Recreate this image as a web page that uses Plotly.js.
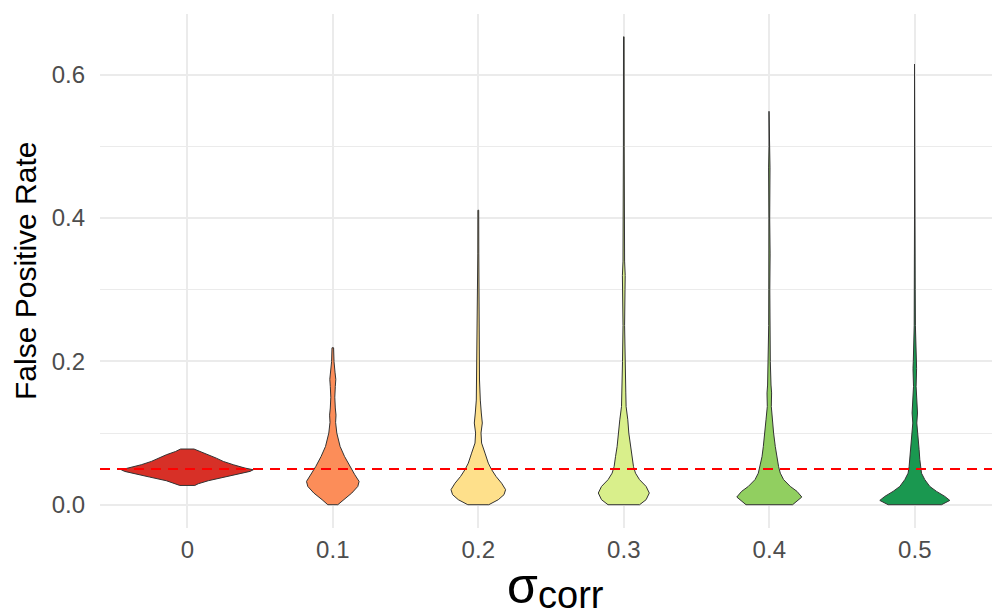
<!DOCTYPE html>
<html><head><meta charset="utf-8">
<script src="https://cdn.plot.ly/plotly-3.0.1.min.js"></script>
<style>html,body{margin:0;padding:0;background:#fff;overflow:hidden}</style>
</head><body><div id="chart" style="width:992px;height:611px"></div>
<script>
// Categories (sigma_corr) and fill colours
const categories = ['0', '0.1', '0.2', '0.3', '0.4', '0.5'];
const fillColors = ['#D73027', '#FC8D59', '#FEE08B', '#D9EF8B', '#91CF60', '#1A9850'];
const refLine = 0.05;

// Violin density profiles: FPR level and half-width (relative density)
const fpr_s0 = [0.0269, 0.0293, 0.0335, 0.0386, 0.0418, 0.0465, 0.0488, 0.0511, 0.0558, 0.0604, 0.065, 0.0697, 0.0743, 0.0777];
const dens_s0 = [7.5, 11, 21, 37.7, 49, 62.7, 66, 57.7, 46, 36, 29, 21, 11.7, 6.7];

const fpr_s1 = [0, 0.007, 0.0163, 0.0255, 0.0325, 0.0418, 0.0534, 0.0674, 0.0813, 0.1, 0.115, 0.125, 0.135, 0.15, 0.165, 0.175, 0.185, 0.2, 0.219];
const dens_s1 = [5, 10.7, 19, 25, 26.3, 22, 17, 11.7, 7.3, 4, 2.8, 3.2, 2.5, 2, 2.5, 3, 2.2, 1.2, 0.8];

const fpr_s2 = [0, 0.007, 0.014, 0.021, 0.030, 0.0395, 0.049, 0.058, 0.072, 0.086, 0.1, 0.114, 0.128, 0.146, 0.174, 0.2, 0.25, 0.3, 0.35, 0.411];
const dens_s2 = [10.5, 20, 25.7, 27.3, 23.3, 17.7, 13.3, 10, 6.7, 3.3, 2.7, 4, 3, 2, 1.2, 1, 0.7, 0.9, 0.5, 0.4];

const fpr_s3 = [0, 0.007, 0.0163, 0.0255, 0.035, 0.044, 0.053, 0.067, 0.081, 0.1, 0.1185, 0.137, 0.156, 0.174, 0.2, 0.25, 0.3, 0.32, 0.34, 0.4, 0.5, 0.653];
const dens_s3 = [15.8, 22.3, 25.5, 22.3, 15.7, 11.7, 9.7, 8.3, 6.7, 5, 4, 2.3, 2, 1.7, 1.3, 0.8, 1.2, 1.4, 0.8, 0.4, 0.4, 0.3];

const fpr_s4 = [0, 0.0107, 0.0186, 0.0255, 0.035, 0.044, 0.053, 0.067, 0.081, 0.1, 0.1185, 0.137, 0.156, 0.167, 0.2, 0.25, 0.3, 0.35, 0.4, 0.47, 0.5, 0.549];
const dens_s4 = [23.3, 32.5, 27.7, 21, 14.3, 11, 9.3, 7.3, 6, 4.3, 3.3, 2, 2.3, 1.7, 1, 0.6, 0.5, 0.8, 0.4, 0.7, 0.3, 0.3];

const fpr_s5 = [0, 0.006, 0.0116, 0.0186, 0.0255, 0.035, 0.044, 0.053, 0.063, 0.077, 0.091, 0.1, 0.114, 0.128, 0.146, 0.165, 0.19, 0.2, 0.25, 0.3, 0.4, 0.5, 0.615];
const dens_s5 = [26.7, 35, 30, 21.7, 15, 10, 6.7, 5.7, 5, 4.3, 3.7, 2.7, 2, 2.7, 1.7, 1.3, 1.8, 1.5, 0.6, 0.4, 0.3, 0.3, 0.3];

const yTickVals = [0, 0.2, 0.4, 0.6];
const yTickText = ['0.0', '0.2', '0.4', '0.6'];

const profiles = [[fpr_s0, dens_s0], [fpr_s1, dens_s1], [fpr_s2, dens_s2], [fpr_s3, dens_s3], [fpr_s4, dens_s4], [fpr_s5, dens_s5]];
const widthScale = 1 / 145.5; // density units -> category units

const traces = profiles.map(([ys, ds], i) => {
  const xr = ys.map((y, j) => i + ds[j] * widthScale);
  const xl = ys.map((y, j) => i - ds[j] * widthScale).reverse();
  const yl = ys.slice().reverse();
  return {
    type: 'scatter', mode: 'lines',
    x: xr.concat(xl, [xr[0]]),
    y: ys.concat(yl, [ys[0]]),
    fill: 'toself', fillcolor: fillColors[i],
    line: {color: '#333333', width: 1},
    hoverinfo: 'skip', showlegend: false
  };
});

const font = 'Liberation Sans, Arial, Helvetica, sans-serif';
const plotW = 892;
const layout = {
  width: 992, height: 611,
  margin: {l: 100, r: 0, t: 14, b: 83},
  paper_bgcolor: '#ffffff', plot_bgcolor: '#ffffff',
  font: {family: font, color: '#4D4D4D'},
  xaxis: {
    range: [-0.6, 5.5306], tickvals: [0, 1, 2, 3, 4, 5], ticktext: categories,
    showgrid: true, gridcolor: '#EBEBEB', gridwidth: 2, zeroline: false, showline: false,
    ticks: '', tickfont: {size: 24, color: '#4D4D4D', family: font}, ticklabelstandoff: 5
  },
  yaxis: {
    range: [-0.0325, 0.6848], tickvals: yTickVals, ticktext: yTickText,
    showgrid: true, gridcolor: '#EBEBEB', gridwidth: 2, zeroline: false, showline: false,
    minor: {dtick: 0.1, tick0: 0, showgrid: true, gridcolor: '#EBEBEB', gridwidth: 1, ticks: ''},
    ticks: '', tickfont: {size: 24, color: '#4D4D4D', family: font}, ticklabelstandoff: 14
  },
  shapes: [{
    type: 'line', xref: 'paper', x0: 0, x1: 1, yref: 'y', y0: refLine, y1: refLine,
    line: {color: '#FF0000', width: 2, dash: '10px,7px'}, layer: 'above'
  }],
  annotations: [
    {text: 'False Positive Rate', textangle: -90, xref: 'paper', yref: 'paper',
     x: (25 - 100) / plotW, y: 0.5, xanchor: 'center', yanchor: 'middle', showarrow: false,
     font: {size: 30, color: '#000000', family: font}},
    {text: 'σ', xref: 'paper', x: (540 - 100) / plotW, yref: 'paper', y: (528 - 586) / 514,
     xanchor: 'right', yanchor: 'middle', showarrow: false,
     font: {size: 50, color: '#000000', family: font}},
    {text: 'corr', xref: 'paper', x: (536 - 100) / plotW, yref: 'paper', y: (528 - 595) / 514,
     xanchor: 'left', yanchor: 'middle', showarrow: false,
     font: {size: 38, color: '#000000', family: font}}
  ]
};

Plotly.newPlot('chart', traces, layout, {staticPlot: true, displayModeBar: false});
</script>
</body></html>
